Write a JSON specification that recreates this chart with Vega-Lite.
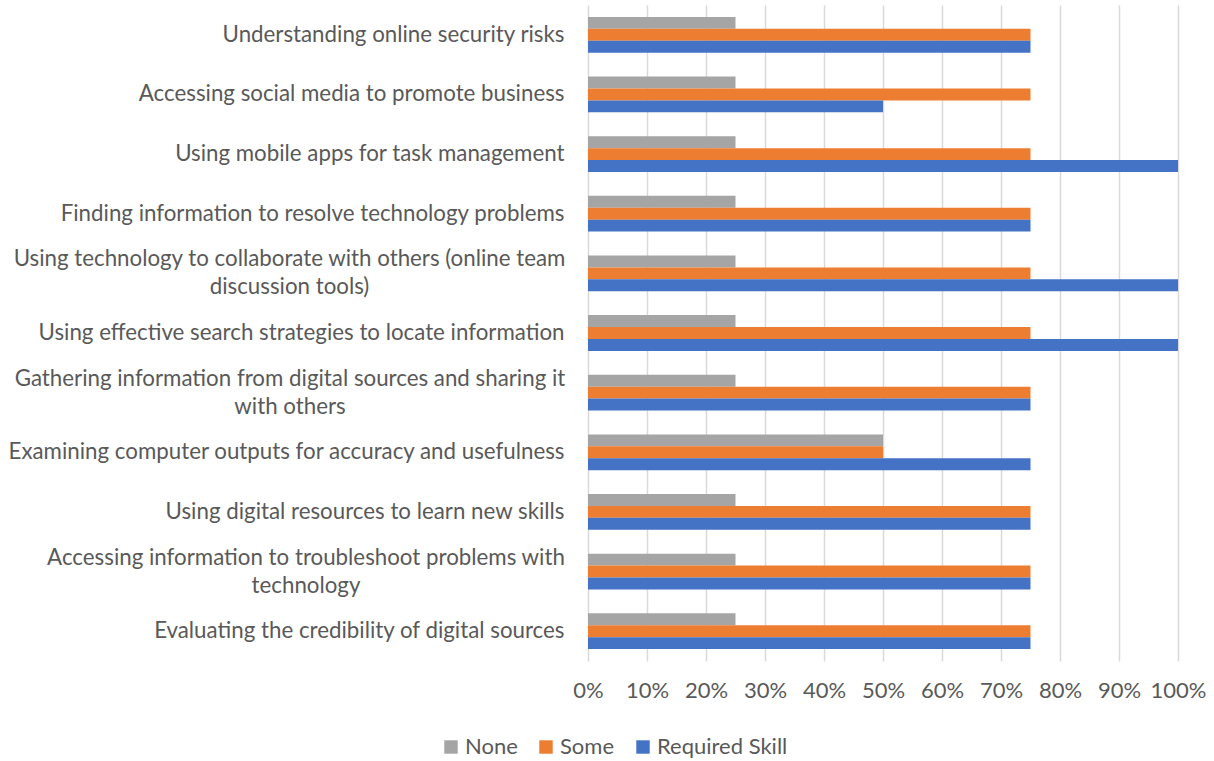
{
  "$schema": "https://vega.github.io/schema/vega-lite/v6.json",
  "autosize": "none",
  "width": 590,
  "height": 656,
  "padding": {"left": 588, "top": 5, "right": 36, "bottom": 100},
  "background": "white",
  "config": {
    "font": "Lato",
    "view": {"stroke": null}
  },
  "data": {
    "values": [
      {"skill": "Understanding online security risks", "level": "None", "pct": 0.25},
      {"skill": "Understanding online security risks", "level": "Some", "pct": 0.75},
      {"skill": "Understanding online security risks", "level": "Required Skill", "pct": 0.75},
      {"skill": "Accessing social media to promote business", "level": "None", "pct": 0.25},
      {"skill": "Accessing social media to promote business", "level": "Some", "pct": 0.75},
      {"skill": "Accessing social media to promote business", "level": "Required Skill", "pct": 0.5},
      {"skill": "Using mobile apps for task management", "level": "None", "pct": 0.25},
      {"skill": "Using mobile apps for task management", "level": "Some", "pct": 0.75},
      {"skill": "Using mobile apps for task management", "level": "Required Skill", "pct": 1.0},
      {"skill": "Finding information to resolve technology problems", "level": "None", "pct": 0.25},
      {"skill": "Finding information to resolve technology problems", "level": "Some", "pct": 0.75},
      {"skill": "Finding information to resolve technology problems", "level": "Required Skill", "pct": 0.75},
      {"skill": "Using technology to collaborate with others (online team discussion tools)", "level": "None", "pct": 0.25},
      {"skill": "Using technology to collaborate with others (online team discussion tools)", "level": "Some", "pct": 0.75},
      {"skill": "Using technology to collaborate with others (online team discussion tools)", "level": "Required Skill", "pct": 1.0},
      {"skill": "Using effective search strategies to locate information", "level": "None", "pct": 0.25},
      {"skill": "Using effective search strategies to locate information", "level": "Some", "pct": 0.75},
      {"skill": "Using effective search strategies to locate information", "level": "Required Skill", "pct": 1.0},
      {"skill": "Gathering information from digital sources and sharing it with others", "level": "None", "pct": 0.25},
      {"skill": "Gathering information from digital sources and sharing it with others", "level": "Some", "pct": 0.75},
      {"skill": "Gathering information from digital sources and sharing it with others", "level": "Required Skill", "pct": 0.75},
      {"skill": "Examining computer outputs for accuracy and usefulness", "level": "None", "pct": 0.5},
      {"skill": "Examining computer outputs for accuracy and usefulness", "level": "Some", "pct": 0.5},
      {"skill": "Examining computer outputs for accuracy and usefulness", "level": "Required Skill", "pct": 0.75},
      {"skill": "Using digital resources to learn new skills", "level": "None", "pct": 0.25},
      {"skill": "Using digital resources to learn new skills", "level": "Some", "pct": 0.75},
      {"skill": "Using digital resources to learn new skills", "level": "Required Skill", "pct": 0.75},
      {"skill": "Accessing information to troubleshoot problems with technology", "level": "None", "pct": 0.25},
      {"skill": "Accessing information to troubleshoot problems with technology", "level": "Some", "pct": 0.75},
      {"skill": "Accessing information to troubleshoot problems with technology", "level": "Required Skill", "pct": 0.75},
      {"skill": "Evaluating the credibility of digital sources", "level": "None", "pct": 0.25},
      {"skill": "Evaluating the credibility of digital sources", "level": "Some", "pct": 0.75},
      {"skill": "Evaluating the credibility of digital sources", "level": "Required Skill", "pct": 0.75}
    ]
  },
  "mark": {"type": "bar"},
  "encoding": {
    "y": {
      "field": "skill",
      "type": "nominal",
      "sort": null,
      "scale": {"paddingInner": 0.4, "paddingOuter": 0.2},
      "axis": {
        "title": null,
        "domain": false,
        "ticks": false,
        "labelFontSize": 22.3,
        "labelColor": "#595959",
        "labelLimit": 700,
        "labelLineHeight": 28,
        "labelOffset": {
          "condition": {"test": "indexof(datum.value, 'online team') >= 0 || indexof(datum.value, 'sharing it') >= 0 || indexof(datum.value, 'troubleshoot') >= 0", "value": -14},
          "value": 0
        },
        "labelPadding": {
          "condition": [
            {"test": "indexof(datum.value, 'online team') >= 0", "value": 299},
            {"test": "indexof(datum.value, 'sharing it') >= 0", "value": 298.5},
            {"test": "indexof(datum.value, 'troubleshoot') >= 0", "value": 282.5}
          ],
          "value": 24
        },
        "labelAlign": {
          "condition": {"test": "indexof(datum.value, 'online team') >= 0 || indexof(datum.value, 'sharing it') >= 0 || indexof(datum.value, 'troubleshoot') >= 0", "value": "center"},
          "value": "right"
        },
        "labelExpr": "indexof(datum.value, 'online team') >= 0 ? ['Using technology to collaborate with others (online team', 'discussion tools)'] : indexof(datum.value, 'sharing it') >= 0 ? ['Gathering information from digital sources and sharing it', 'with others'] : indexof(datum.value, 'troubleshoot') >= 0 ? ['Accessing information to troubleshoot problems with', 'technology'] : datum.label"
      }
    },
    "yOffset": {
      "field": "level",
      "type": "nominal",
      "sort": ["None", "Some", "Required Skill"],
      "scale": {"paddingInner": 0, "paddingOuter": 0}
    },
    "x": {
      "field": "pct",
      "type": "quantitative",
      "scale": {"domain": [0, 1], "nice": false},
      "axis": {
        "title": null,
        "format": ".0%",
        "values": [0, 0.1, 0.2, 0.3, 0.4, 0.5, 0.6, 0.7, 0.8, 0.9, 1.0],
        "domain": false,
        "ticks": false,
        "grid": true,
        "gridColor": "#D9D9D9",
        "gridWidth": 1.5,
        "labelFontSize": 22,
        "labelColor": "#595959",
        "labelPadding": 19,
        "labelFlush": false
      }
    },
    "color": {
      "field": "level",
      "type": "nominal",
      "sort": ["None", "Some", "Required Skill"],
      "scale": {"domain": ["None", "Some", "Required Skill"], "range": ["#A5A5A5", "#ED7D31", "#4472C4"]},
      "legend": {
        "title": null,
        "orient": "none",
        "direction": "horizontal",
        "legendX": -148,
        "legendY": 731,
        "symbolType": "square",
        "symbolSize": 180,
        "symbolStrokeWidth": 0,
        "labelFontSize": 22,
        "labelColor": "#595959",
        "labelOffset": 3,
        "columnPadding": 17
      }
    }
  }
}
